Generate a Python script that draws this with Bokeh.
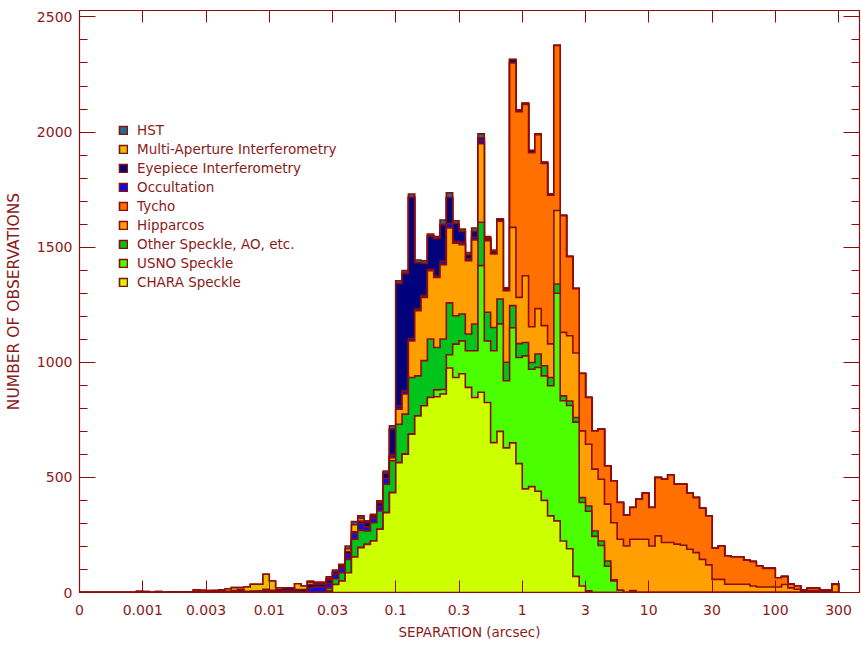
import numpy as np
from bokeh.plotting import figure
from bokeh.models import (Range1d, FixedTicker, CustomJSTickFormatter, LinearAxis,
                          LogAxis, Legend, LegendItem)
from bokeh.embed import file_html
from bokeh.resources import INLINE

# ---------------- data (counts per 0.05-dex separation bin) ----------------
N_BINS = 120          # bins from 10^-3.5 to 10^2.5 arcsec
LOG_MIN = -3.5
BIN_DEX = 0.05

TICK_LABELS = ["0", "0.001", "0.003", "0.01", "0.03", "0.1", "0.3",
               "1", "3", "10", "30", "100", "300"]

# (first bin index, counts) for each technique
CHARA_FIRST = 39
CHARA = [5, 35, 50, 86, 154, 195, 209, 224, 275, 347,
         434, 564, 601, 688, 767, 811, 847, 850, 862, 975,
         934, 950, 891, 847, 870, 825, 651, 700, 628, 650,
         560, 450, 460, 440, 400, 333, 311, 224, 190, 70,
         28, 7]

USNO_FIRST = 56
USNO = [30, 20, 58, 145,
        143, 159, 203, 550, 268, 399, 467, 292, 500, 461,
        578, 510, 537, 541, 565, 989, 609, 622, 670, 363,
        346, 244, 204, 114, 50, 10]

OTHER_FIRST = 39
OTHER = [15,
         25, 36, 58, 77, 75, 58, 79, 79, 123, 138,
         167, 174, 246, 174, 196, 254, 184, 219, 225, 123,
         117, 73, 116, 188, 124, 101, 108, 80, 96, 60,
         58, 29, 59, 44, 36, 40, 21, 20, 20, 21,
         23, 23, 20, 23, 5, 0, 0, 8]

HIPPARCOS_FIRST = 49
HIPPARCOS = [14,
             65, 87, 159, 283, 275, 297, 305, 323, 325, 315,
             301, 318, 365, 341, 311, 319, 338, 311, 340, 201,
             290, 155, 197, 174, 146, 319, 276, 283, 280, 290,
             268, 269, 268, 247, 248, 221, 202, 223, 231, 231,
             202, 246, 217, 217, 210, 205, 188, 173, 144, 120,
             57, 57, 36, 36, 36, 36, 28, 24, 24, 24,
             24, 35, 20, 14, 7, 7, 7, 5, 5, 35]

TYCHO_FIRST = 68
TYCHO = [714, 806,
         744, 756, 755, 705, 646, 717, 507, 344, 280, 249,
         203, 166, 217, 166, 182, 160, 134, 138, 174, 200,
         167, 253, 275, 294, 260, 265, 243, 239, 222, 213,
         135, 145, 123, 118, 118, 104, 106, 91, 81, 81,
         40, 34, 16, 14, 3, 11, 11, 5, 5, 3]

OCCULT_FIRST = 24
OCCULT = [5, 10, 4, 0, 6, 8,
          0, 0, 10, 10, 5, 0, 20, 25, 25, 20,
          20, 22, 22, 25, 30, 18, 20, 20, 25, 12,
          15, 14, 10, 8, 8, 6, 6, 15, 20, 8,
          10, 8, 12, 15, 5, 0, 0, 5, 0, 8]

EYEPIECE_FIRST = 18
EYEPIECE = [6, 0,
            0, 8, 8, 5, 4, 4, 0, 6, 0, 6,
            10, 12, 10, 10, 8, 13, 15, 10, 10, 15,
            10, 8, 12, 8, 10, 20, 10, 15, 23, 112,
            531, 510, 614, 200, 139, 145, 163, 159, 113, 78,
            48, 18, 25, 10, 5, 10, 10, 8, 15, 0,
            5, 10, 4, 5, 5]

MULTI_FIRST = 9
MULTI = [5,
         4, 0, 4, 0, 3, 3, 3, 3, 6, 10,
         8, 0, 4, 10, 12, 8, 20, 30, 30, 65,
         40, 8, 0, 0, 25, 15, 10, 5, 5, 5,
         0, 0, 12, 30, 12]

HST_FIRST = 36
HST = [5, 5, 5, 8,
       8, 6, 12, 14, 11, 6, 7, 9, 10, 14,
       12, 12, 14, 12, 12, 8, 8, 20, 20, 12,
       10, 10, 15, 18, 8, 8]

# stacking order: bottom -> top
LAYERS = [
    ("CHARA Speckle", "#ccff00", CHARA_FIRST, CHARA),
    ("USNO Speckle", "#4cff00", USNO_FIRST, USNO),
    ("Other Speckle, AO, etc.", "#00c41c", OTHER_FIRST, OTHER),
    ("Hipparcos", "#ffa000", HIPPARCOS_FIRST, HIPPARCOS),
    ("Tycho", "#ff7000", TYCHO_FIRST, TYCHO),
    ("Occultation", "#0010f0", OCCULT_FIRST, OCCULT),
    ("Eyepiece Interferometry", "#00007c", EYEPIECE_FIRST, EYEPIECE),
    ("Multi-Aperture Interferometry", "#e6c000", MULTI_FIRST, MULTI),
    ("HST", "#1a7090", HST_FIRST, HST),
]

# ---------------- build ----------------
DARK = "#8c0c0c"
TEXT = "#8b1a1a"

edges = 10 ** (LOG_MIN + BIN_DEX * np.arange(N_BINS + 1))


def full(first, vals):
    a = np.zeros(N_BINS)
    a[first:first + len(vals)] = vals
    return a


counts = np.array([full(f, v) for _, _, f, v in LAYERS])
cum = np.cumsum(counts, axis=0)

p = figure(frame_width=780, frame_height=582, x_axis_type="log",
           x_range=Range1d(10 ** LOG_MIN, 10 ** 2.666), y_range=Range1d(0, 2528),
           output_backend="svg", toolbar_location=None,
           min_border_left=79, min_border_right=2, min_border_top=10,
           min_border_bottom=54, background_fill_color="white",
           border_fill_color="white")
p.grid.visible = False
p.outline_line_color = DARK
p.outline_line_width = 1.2

xs_step = np.repeat(edges, 2)[1:-1]
renderers = {}
for i in range(len(LAYERS) - 1, -1, -1):
    name, color, _, _ = LAYERS[i]
    ys_step = np.repeat(cum[i], 2)
    xs = np.concatenate([xs_step, [edges[-1], edges[0]]])
    ys = np.concatenate([ys_step, [0.0, 0.0]])
    r = p.patch(xs, ys, fill_color=color, line_color=DARK, line_width=1.6,
                line_join="miter")
    renderers[name] = r

# axes
xticks = list(10 ** (LOG_MIN + 0.5 * np.arange(len(TICK_LABELS))))
xfmt = CustomJSTickFormatter(args=dict(labels=TICK_LABELS), code="""
const i = Math.round((Math.log10(tick) + 3.5) * 2);
return (i >= 0 && i < labels.length) ? labels[i] : '';
""")
blank = CustomJSTickFormatter(code="return '';")
yticker = FixedTicker(ticks=[0, 500, 1000, 1500, 2000, 2500],
                      minor_ticks=list(range(0, 2501, 100)))


def style(ax):
    ax.axis_line_color = DARK
    ax.major_tick_line_color = DARK
    ax.minor_tick_line_color = DARK
    ax.major_tick_out = 0
    ax.minor_tick_out = 0
    ax.major_label_text_color = TEXT
    ax.major_label_text_font = "DejaVu Sans"
    ax.major_label_text_font_size = "14px"
    ax.axis_label_text_color = TEXT
    ax.axis_label_text_font = "DejaVu Sans"
    ax.axis_label_text_font_size = "13.5px"
    ax.axis_label_text_font_style = "normal"


xa = p.xaxis[0]
xa.ticker = FixedTicker(ticks=xticks, minor_ticks=[])
xa.formatter = xfmt
style(xa)
xa.major_tick_in = 12
xa.major_label_standoff = 12
xa.axis_label = "SEPARATION (arcsec)"
xa.axis_label_standoff = 6

ya = p.yaxis[0]
ya.ticker = yticker
style(ya)
ya.axis_label_text_font_size = "15.5px"
ya.major_tick_in = 16
ya.minor_tick_in = 8
ya.major_label_standoff = 7
ya.axis_label = "NUMBER OF OBSERVATIONS"
ya.axis_label_standoff = 11

top = LogAxis(ticker=FixedTicker(ticks=xticks, minor_ticks=[]), formatter=blank)
style(top)
top.major_tick_in = 12
top.major_label_standoff = 0
p.add_layout(top, "above")

right = LinearAxis(ticker=yticker, formatter=blank)
style(right)
right.major_tick_in = 16
right.minor_tick_in = 8
right.major_label_standoff = 0
p.add_layout(right, "right")

items = [LegendItem(label=name, renderers=[renderers[name]])
         for name, _, _, _ in reversed(LAYERS)]
legend = Legend(items=items, location=(39, 302), glyph_width=10, glyph_height=10,
                label_text_font="DejaVu Sans", label_text_font_size="13.5px",
                label_text_color=TEXT, label_standoff=9, spacing=3,
                label_height=14, padding=0, margin=0, border_line_color=None,
                background_fill_alpha=0)
p.add_layout(legend)

open("out.html", "w").write(file_html(p, INLINE))
